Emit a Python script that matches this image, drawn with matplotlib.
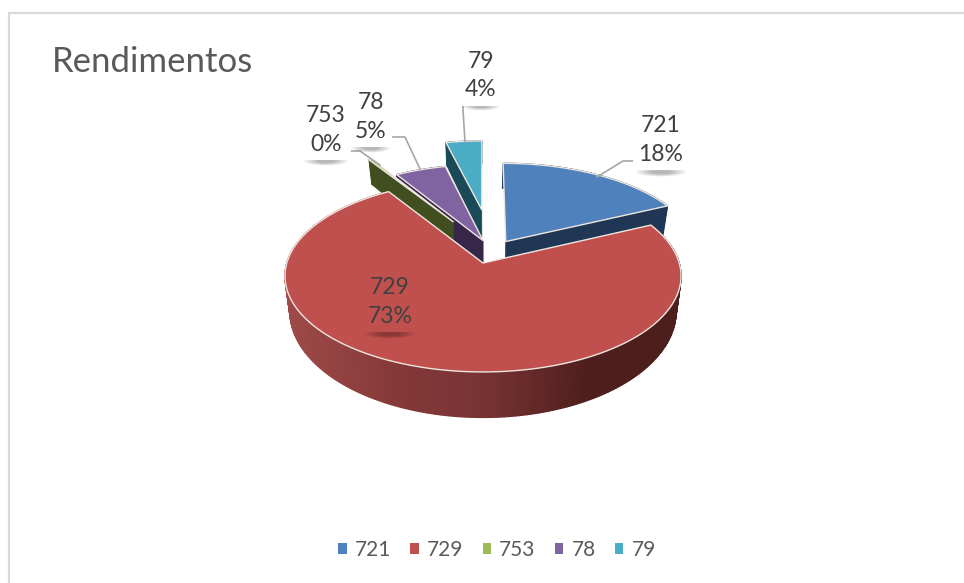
import matplotlib
matplotlib.use("Agg")
import matplotlib.pyplot as plt
import numpy as np
from matplotlib.patches import Ellipse, Patch

plt.rcParams["font.family"] = ["Lato", "DejaVu Sans"]

# chart values
names = ["721", "729", "753", "78", "79"]
shares = [18.0, 73.0, 0.3, 5.0, 3.7]
pct_labels = ["18%", "73%", "0%", "5%", "4%"]
explode = [0.13, 0.13, 0.40, 0.13, 0.49]
radius = [1.0, 1.0, 0.97, 0.97, 0.96]

top_colors = ["#4f81bd", "#c0504d", "#9bbb59", "#8064a2", "#4bacc6"]
wall_colors = ["#1f3654", "#7a2f2d", "#414f20", "#35264a", "#1a4a57"]
draw_order = [4, 3, 2, 0, 1]

# red wall shading, left to right
grad_x = [285, 400, 480, 540, 590, 685]
grad_r = [158, 132, 120, 98, 78, 76]
grad_g = [74, 56, 52, 40, 30, 30]
grad_b = [72, 56, 52, 38, 28, 28]

# projection of the pie plane to the picture
CX, CY = 483.0, 263.0
A, B, P = 196.2, 94.2, 0.1353
DEPTH = 34.0
C0 = (0.05, 0.125)


def project(u, v, z=0.0):
    w = 1 + P * v
    x = CX + A * u / w * (1 - 0.025 * z)
    y = CY - B * v / w + DEPTH * z / w**2
    return x, y


def shadow(ax, x, y, width):
    for k in range(6):
        ax.add_patch(
            Ellipse((x, y), width * (1 - k * 0.12), 9 - k, fc="black", ec="none", alpha=0.05, lw=0, zorder=4.5)
        )


fig = plt.figure(figsize=(9.64, 5.83), dpi=100)
ax = fig.add_axes([0, 0, 1, 1])
ax.set_xlim(0, 964)
ax.set_ylim(583, 0)
ax.axis("off")

# chart frame
ax.plot([8.5, 8.5, 964], [583, 12.5, 12.5], color="#d9d9d9", lw=1.6, zorder=1)

starts = np.cumsum([0] + shares[:-1]) * 3.6
ends = np.cumsum(shares) * 3.6

for i in draw_order:
    t0, t1 = np.radians(starts[i]), np.radians(ends[i])
    mid = (t0 + t1) / 2
    ox = C0[0] + explode[i] * np.sin(mid)
    oy = C0[1] + explode[i] * np.cos(mid)
    if i == 1:
        # red wedge apex stays at the origin of the plane
        ox, oy = 0.0, 0.0
    theta = np.linspace(t0, t1, max(int(np.degrees(t1 - t0)), 3))
    u = ox + radius[i] * np.sin(theta)
    v = oy + radius[i] * np.cos(theta)

    # straight wall along the start edge, or the end edge for the first slice
    if i != 1:
        k = -1 if i == 0 else 0
        x0, y0 = project(ox, oy)
        x1, y1 = project(u[k], v[k])
        x2, y2 = project(u[k], v[k], 1)
        x3, y3 = project(ox, oy, 1)
        ax.fill([x0, x1, x2, x3], [y0, y1, y2, y3], color=wall_colors[i], lw=0.5, zorder=2)

    # curved wall
    for a, b in zip(range(len(u) - 1), range(1, len(u))):
        xa, ya = project(u[a], v[a])
        xb, yb = project(u[b], v[b])
        xc, yc = project(u[b], v[b], 1)
        xd, yd = project(u[a], v[a], 1)
        if i == 1:
            xm = (xa + xb) / 2
            col = (
                np.interp(xm, grad_x, grad_r) / 255,
                np.interp(xm, grad_x, grad_g) / 255,
                np.interp(xm, grad_x, grad_b) / 255,
            )
        else:
            col = wall_colors[i]
        ax.fill([xa, xb, xc, xd], [ya, yb, yc, yd], color=col, lw=1.0, zorder=2)

    # top face
    xs, ys = project(np.r_[ox, u], np.r_[oy, v])
    ax.fill(xs, ys, fc=top_colors[i], ec="#efe6e0", lw=1.0, joinstyle="round", zorder=3)

# leader lines
leaders = [
    ([597, 623, 640], [177, 161, 161]),
    ([465, 463, 463], [142, 110, 96]),
    ([420, 405, 393], [169, 137, 137]),
    ([380, 360, 347], [165, 151, 151]),
]
for lx, ly in leaders:
    ax.plot(lx, ly, color="#a6a6a6", lw=1.2, zorder=4)

# data labels
label_xy = [(661, 140), (390, 302), (326, 130), (371, 117), (481, 75.5)]
shadow_xy = [(661, 172, 50), (390, 334, 50), (326, 161, 44), (371, 148, 38), (481, 106, 38)]
for i, (x, y) in enumerate(label_xy):
    sx, sy, sw = shadow_xy[i]
    shadow(ax, sx, sy, sw)
    face = top_colors[1] if i == 1 else "white"
    ax.text(
        x, y, names[i] + "\n" + pct_labels[i], ha="center", va="center", fontsize=16.5,
        color="#404040", linespacing=1.47, bbox=dict(fc=face, ec="none", pad=4), zorder=5,
    )

ax.text(52, 62, "Rendimentos", fontsize=25, color="#595959", va="center", ha="left", zorder=5)

handles = [Patch(fc=c, ec="none") for c in top_colors]
ax.legend(
    handles, names, loc="center", bbox_to_anchor=(497 / 964, 1 - 550 / 583), ncol=5, frameon=False,
    fontsize=15, labelcolor="#595959", handlelength=0.4, handleheight=0.4, handletextpad=0.4,
    columnspacing=0.92, borderpad=0,
)

fig.savefig("out.png", dpi=100)
